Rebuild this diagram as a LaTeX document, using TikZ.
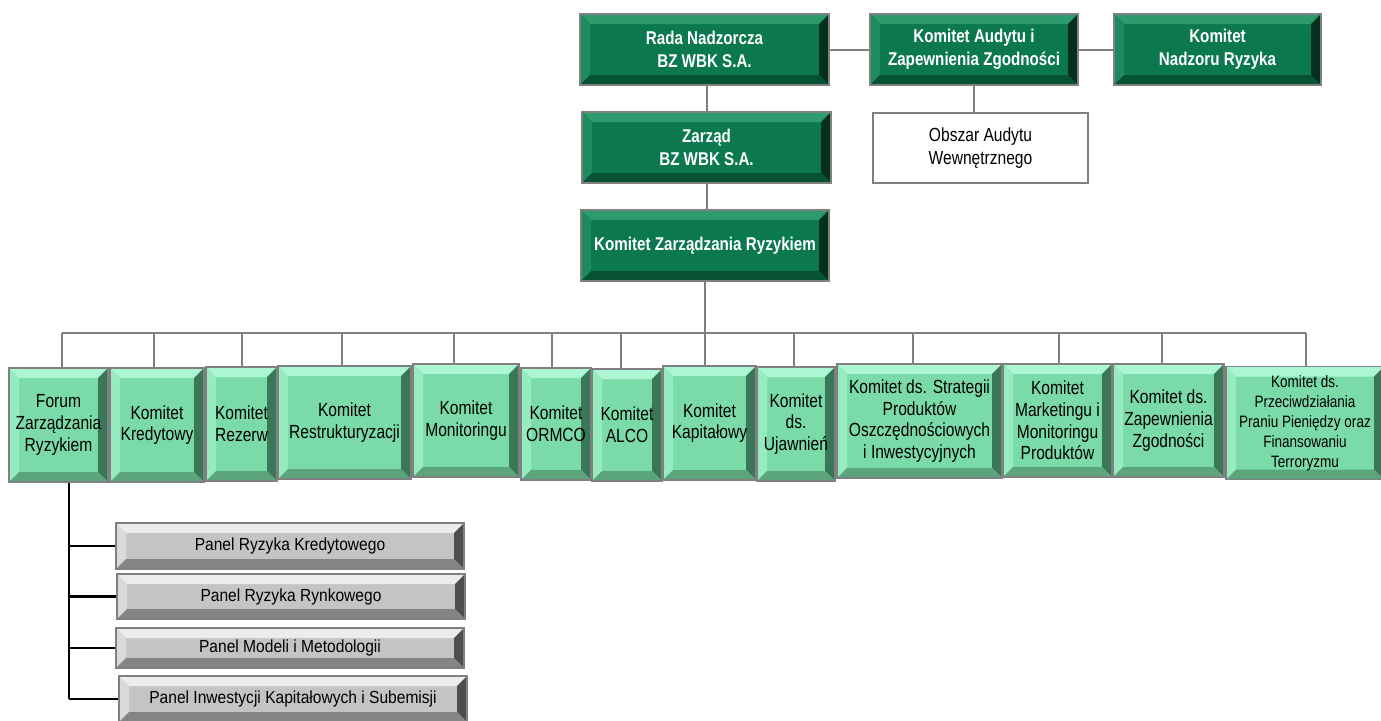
\documentclass[tikz,border=0pt]{standalone}
\usepackage{fontspec}
\setmainfont{Liberation Sans}[FakeStretch=0.82]
\newfontfamily\boldf{Liberation Sans}[FakeStretch=0.82]
\newfontfamily\panelf{Liberation Sans}[FakeStretch=0.89]
\usetikzlibrary{calc}
\definecolor{linegray}{RGB}{128,128,128}
\definecolor{dgmain}{RGB}{12,120,80}
\definecolor{dgtop}{RGB}{45,155,110}
\definecolor{dgleft}{RGB}{30,138,96}
\definecolor{dgright}{RGB}{6,48,30}
\definecolor{dgbot}{RGB}{8,82,52}
\definecolor{lgmain}{RGB}{122,219,168}
\definecolor{lgtop}{RGB}{172,246,212}
\definecolor{lgleft}{RGB}{150,236,192}
\definecolor{lgright}{RGB}{58,118,88}
\definecolor{lgbot}{RGB}{92,164,124}
\definecolor{gpmain}{RGB}{196,196,196}
\definecolor{gptop}{RGB}{236,236,236}
\definecolor{gpleft}{RGB}{218,218,218}
\definecolor{gpright}{RGB}{78,78,78}
\definecolor{gpbot}{RGB}{132,132,132}
\tikzset{
  bevel/.style n args={5}{fill=#1, path picture={
    \coordinate (NW) at (path picture bounding box.north west);
    \coordinate (NE) at (path picture bounding box.north east);
    \coordinate (SW) at (path picture bounding box.south west);
    \coordinate (SE) at (path picture bounding box.south east);
    \fill[#2] (NW) -- (NE) -- ([shift={(-10,10)}]NE) -- ([shift={(10,10)}]NW) -- cycle;
    \fill[#3] (NW) -- (SW) -- ([shift={(10,-10)}]SW) -- ([shift={(10,10)}]NW) -- cycle;
    \fill[#4] (NE) -- (SE) -- ([shift={(-10,-10)}]SE) -- ([shift={(-10,10)}]NE) -- cycle;
    \fill[#5] (SW) -- (SE) -- ([shift={(-10,-10)}]SE) -- ([shift={(10,-10)}]SW) -- cycle;
  }},
  box/.style={rectangle, draw=linegray, line width=1.6pt, inner sep=0pt, align=center},
  dg/.style={box, bevel={dgmain}{dgtop}{dgleft}{dgright}{dgbot}, text=white,
    font=\boldf\bfseries\fontsize{18.5}{23}\selectfont},
  lg/.style={box, bevel={lgmain}{lgtop}{lgleft}{lgright}{lgbot}, text=black,
    font=\fontsize{19}{21.7}\selectfont},
  gp/.style={box, bevel={gpmain}{gptop}{gpleft}{gpright}{gpbot}, text=black,
    font=\panelf\fontsize{17.5}{21}\selectfont, minimum width=348},
  wb/.style={box, fill=white, text=black, font=\fontsize{19}{23}\selectfont},
  conn/.style={draw=linegray, line width=2pt},
  blk/.style={draw=black, line width=2.2pt},
}
\begin{document}
\begin{tikzpicture}[x=1pt, y=-1pt]
\useasboundingbox (0,0) rectangle (1381,720);
% top level
\node[dg, minimum width=249, minimum height=71] (rada) at (704.5,49.5) {Rada Nadzorcza\\BZ WBK S.A.};
\node[dg, minimum width=208, minimum height=71] (audyt) at (974,49.5) {Komitet Audytu i\\Zapewnienia Zgodności};
\node[dg, minimum width=207, minimum height=71] (nadzor) at (1217.5,49.5) {Komitet\\Nadzoru Ryzyka};
\node[wb, minimum width=215, minimum height=70] (obszar) at (980.5,148) {Obszar Audytu\\Wewnętrznego};
\node[dg, minimum width=249, minimum height=71] (zarzad) at (706.5,147.5) {Zarząd\\BZ WBK S.A.};
\node[dg, minimum width=248, minimum height=71] (kzr) at (705,245.5) {Komitet Zarządzania Ryzykiem};
% committees
\node[lg, minimum width=99, minimum height=114] (forum) at (58.5,425) {Forum\\Zarządzania\\Ryzykiem};
\node[lg, minimum width=94, minimum height=114] (kred) at (157,425) {Komitet\\Kredytowy};
\node[lg, minimum width=71, minimum height=114] (rez) at (241.5,424) {Komitet\\Rezerw};
\node[lg, minimum width=133, minimum height=113] (restr) at (344.5,422.5) {Komitet\\Restrukturyzacji};
\node[lg, minimum width=106, minimum height=113] (monit) at (466,420.5) {Komitet\\Monitoringu};
\node[lg, minimum width=70, minimum height=112] (ormco) at (556,424) {Komitet\\ORMCO};
\node[lg, minimum width=70, minimum height=112] (alco) at (627,425) {Komitet\\ALCO};
\node[lg, minimum width=93, minimum height=114] (kapit) at (709.5,423) {Komitet\\Kapitałowy};
\node[lg, minimum width=78, minimum height=114] (ujaw) at (796,424) {Komitet\\ds.\\Ujawnień};
\node[lg, minimum width=165, minimum height=114] (strat) at (919.5,421) {Komitet ds. Strategii\\Produktów\\Oszczędnościowych\\i Inwestycyjnych};
\node[lg, minimum width=109, minimum height=113] (market) at (1057.5,420.5) {Komitet\\Marketingu i\\Monitoringu\\Produktów};
\node[lg, minimum width=111, minimum height=113] (zgod) at (1168.5,420.5) {Komitet ds.\\Zapewnienia\\Zgodności};
\node[lg, minimum width=158, minimum height=113, font=\fontsize{16.5}{20}\selectfont] (przec) at (1305,423) {Komitet ds.\\Przeciwdziałania\\Praniu Pieniędzy oraz\\Finansowaniu\\Terroryzmu};
% panels
\node[gp, minimum height=46] (p1) at (290,546) {Panel Ryzyka Kredytowego};
\node[gp, minimum height=45] (p2) at (291,596.5) {Panel Ryzyka Rynkowego};
\node[gp, minimum height=40] (p3) at (290,648) {Panel Modeli i Metodologii};
\node[gp, minimum height=46] (p4) at (293,699) {Panel Inwestycji Kapitałowych i Subemisji};
% connectors top
\draw[conn] (rada.east) -- (audyt.west);
\draw[conn] (audyt.east) -- (nadzor.west);
\draw[conn] (audyt.south) -- (audyt.south |- obszar.north);
\draw[conn] (zarzad.north |- rada.south) -- (zarzad.north);
\draw[conn] (zarzad.south) -- (zarzad.south |- kzr.north);
\draw[conn] (kzr.south) -- (kzr.south |- kapit.north);
% bus
\coordinate (busL) at (62,333);
\coordinate (busR) at (1306,333);
\draw[conn] (busL) -- (busR);
\foreach \n/\x in {forum/62, kred/154, rez/242, restr/342, monit/454, ormco/552, alco/621, ujaw/794, strat/913, market/1059, zgod/1162, przec/1306}{
  \coordinate (d) at (\x,333);
  \draw[conn] (d) -- (d |- \n.north);
}
% panel tree
\coordinate (ft) at ([xshift=10.5pt]forum.south);
\draw[blk] (ft) -- (ft |- p4.west);
\foreach \p in {p1,p2,p3,p4}{
  \draw[blk] (ft |- \p.west) -- (\p.west);
}
\end{tikzpicture}
\end{document}
